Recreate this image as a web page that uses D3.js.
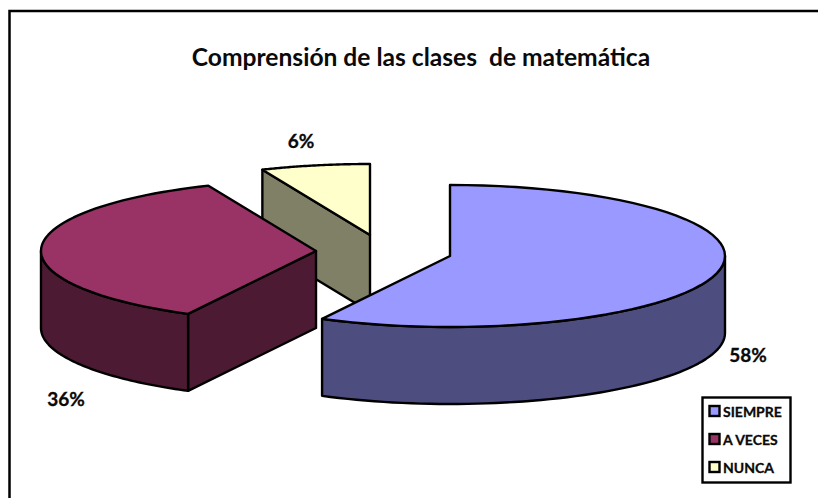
<!DOCTYPE html>
<html><head><meta charset="utf-8">
<script src="https://cdn.jsdelivr.net/npm/d3@7"></script>
<style>html,body{margin:0;padding:0;background:#fff}svg{display:block}text{font-family:Lato,'Open Sans',sans-serif;font-weight:700;fill:#0a0a0a;white-space:pre}text.val,g.leg text{stroke:#0a0a0a;stroke-width:.3px}</style>
</head><body><div id="c"></div>
<script>
const categories = ["SIEMPRE", "A VECES", "NUNCA"];
const values = [57.7, 35.9, 6.4];
const valueLabels = ["58%", "36%", "6%"];
const topColors = ["#9999ff", "#993366", "#ffffcc"];
const sideColors = ["#4d4d80", "#4d1a33", "#808066"];
const title = "Comprensión de las clases  de matemática";

const W = 818, H = 498, RX = 275, RY = 71, DEPTH = 77;
const centers = [[450, 256], [316, 251], [370, 235]];
const labelPos = [[748, 362], [66, 406], [301, 148]];

const svg = d3.select("#c").append("svg").attr("width", W).attr("height", H);
// The frame shows only its top and left sides inside the picture
svg.append("path").attr("d", d3.line()([[9.5, H], [9.5, 11], [W, 11]]))
  .attr("fill", "none").attr("stroke", "#000").attr("stroke-width", 2.5);
svg.append("text").attr("x", 421).attr("y", 66).attr("text-anchor", "middle")
  .style("font-size", "24.6px").text(title);

const arcs = d3.pie().sort(null).value(d => d)(values);
const pt = (c, a, dz = 0) => [c[0] + RX * Math.sin(a), c[1] - RY * Math.cos(a) + dz];
const line = d3.line();
const sample = (a0, a1) => d3.range(0, 61).map(i => a0 + (a1 - a0) * i / 60);

const g = svg.append("g").attr("stroke", "#000").attr("stroke-width", 2.4).attr("stroke-linejoin", "round");

// Back to front: NUNCA, A VECES, SIEMPRE
[2, 1, 0].forEach(i => {
  const a = arcs[i], c = centers[i];
  // visible cut face (the leading edge of A VECES and NUNCA)
  if (i !== 0) {
    const e = a.startAngle;
    g.append("path").attr("fill", sideColors[i])
      .attr("d", line([c, pt(c, e), pt(c, e, DEPTH), [c[0], c[1] + DEPTH]]) + "Z");
  }
  // outer wall (only the part facing the viewer: angles between 90 and 270 degrees)
  const lo = Math.max(a.startAngle, Math.PI / 2), hi = Math.min(a.endAngle, 3 * Math.PI / 2);
  if (hi > lo) {
    const s = sample(lo, hi);
    g.append("path").attr("fill", sideColors[i])
      .attr("d", line([...s.map(t => pt(c, t)), ...s.slice().reverse().map(t => pt(c, t, DEPTH))]) + "Z");
  }
  // top face
  g.append("path").attr("fill", topColors[i])
    .attr("d", line([c, ...sample(a.startAngle, a.endAngle).map(t => pt(c, t))]) + "Z");
});

svg.selectAll("text.val").data(valueLabels).join("text").attr("class", "val")
  .attr("x", (d, i) => labelPos[i][0]).attr("y", (d, i) => labelPos[i][1])
  .attr("text-anchor", "middle").style("font-size", "19px").text(d => d);

// legend
svg.append("rect").attr("x", 702.5).attr("y", 397.5).attr("width", 88).attr("height", 85)
  .attr("fill", "#fff").attr("stroke", "#000").attr("stroke-width", 2.4);
const ly = d3.scalePoint().domain(categories).range([411, 467]);
const lg = svg.selectAll("g.leg").data(categories).join("g").attr("class", "leg")
  .attr("transform", d => `translate(709,${ly(d)})`);
lg.append("rect").attr("x", 0.5).attr("y", -5).attr("width", 10).attr("height", 10)
  .attr("fill", (d, i) => topColors[i]).attr("stroke", "#000").attr("stroke-width", 2.4);
lg.append("text").attr("x", 14).attr("y", 5.5).style("font-size", "14px").text(d => d);
</script></body></html>
